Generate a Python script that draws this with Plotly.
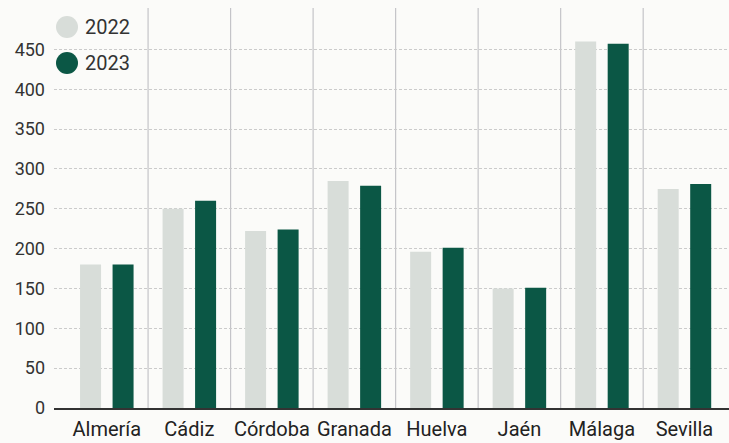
import plotly.graph_objects as go

categories = ["Almería", "Cádiz", "Córdoba", "Granada", "Huelva", "Jaén", "Málaga", "Sevilla"]
values_2022 = [180, 250, 222, 285, 196, 150, 460, 275]
values_2023 = [180, 260, 224, 279, 201, 151, 457, 281]
series_names = ["2022", "2023"]
y_ticks = [0, 50, 100, 150, 200, 250, 300, 350, 400, 450]

c2022 = "#d8ddd9"
c2023 = "#0b5745"
bg = "#fbfbf9"
font_fam = "Roboto, Arial, sans-serif"

fig = go.Figure()
fig.add_trace(go.Bar(x=categories, y=values_2022, name=series_names[0],
                     marker=dict(color=c2022, line=dict(width=0)), showlegend=False))
fig.add_trace(go.Bar(x=categories, y=values_2023, name=series_names[1],
                     marker=dict(color=c2023, line=dict(width=0)), showlegend=False))

shapes = []
for i in range(len(categories) - 1):
    shapes.append(dict(type="line", xref="x", yref="paper", x0=i + 0.5, x1=i + 0.5,
                       y0=0, y1=1, line=dict(color="#c4c4c8", width=1.2), layer="below"))

# legend (circles + labels)
W, H = 729, 443
ml, mr, mt, mb = 54, 0, 8, 35
pw, ph = W - ml - mr, H - mt - mb

def px(xp):
    return (xp - ml) / pw

def py(yp):
    return (H - mb - yp) / ph

annotations = []
for k, (name, col, cy) in enumerate([(series_names[0], c2022, 27), (series_names[1], c2023, 63)]):
    shapes.append(dict(type="circle", xref="paper", yref="paper",
                       x0=px(56), x1=px(78), y0=py(cy + 11), y1=py(cy - 11),
                       fillcolor=col, line=dict(width=0), layer="above"))
    annotations.append(dict(xref="paper", yref="paper", x=px(83), y=py(cy), text=name,
                            showarrow=False, xanchor="left", yanchor="middle",
                            font=dict(family=font_fam, size=20, color="#333333")))

fig.update_layout(
    width=W, height=H,
    margin=dict(l=ml, r=mr, t=mt, b=mb, pad=0, autoexpand=False),
    paper_bgcolor=bg, plot_bgcolor=bg,
    barmode="group", bargap=0.212, bargroupgap=0.354,
    shapes=shapes, annotations=annotations,
    font=dict(family=font_fam, color="#333333"),
    xaxis=dict(type="category", range=[-0.64, 7.54], showgrid=False,
               showline=True, linecolor="#333333", linewidth=2,
               ticks="", ticklabelstandoff=2, automargin=False,
               tickfont=dict(size=20, color="#222222"), fixedrange=True),
    yaxis=dict(range=[0, 502], tickvals=y_ticks, showgrid=True,
               gridcolor="#cbcbcb", griddash="3px,2px", gridwidth=1,
               zeroline=False, showline=False, ticks="", automargin=False,
               ticklabelstandoff=8,
               tickfont=dict(size=18, color="#333333"), fixedrange=True),
)

fig.write_html("out.html")
